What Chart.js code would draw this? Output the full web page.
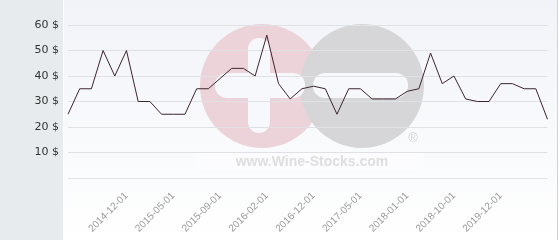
<!DOCTYPE html>
<html>
<head>
<meta charset="utf-8">
<script src="https://cdn.jsdelivr.net/npm/chart.js@4/dist/chart.umd.min.js"></script>
<style>
  html, body { margin: 0; padding: 0; background: #ffffff; }
  canvas { display: block; }
</style>
</head>
<body>
<canvas id="priceChart" width="560" height="240"></canvas>
<script>
// etikete na x osi - samo one koje se vide na slici
const dateLabels = [
  '', '', '', '', '', '2014-12-01', '', '', '', '2015-05-01',
  '', '', '', '2015-09-01', '', '', '', '2016-02-01', '', '',
  '', '2016-12-01', '', '', '', '2017-05-01', '', '', '', '2018-01-01',
  '', '', '', '2018-10-01', '', '', '', '2019-12-01', '', '',
  '', ''
];

// cijena u $
const priceValues = [
  25, 35, 35, 50, 40, 50, 30, 30, 25, 25,
  25, 35, 35, 39, 43, 43, 40, 56, 37, 31,
  35, 36, 35, 25, 35, 35, 31, 31, 31, 34,
  35, 49, 37, 40, 31, 30, 30, 37, 37, 35,
  35, 23
];

const yTicks = [0, 10, 20, 30, 40, 50, 60];

const labelColor = '#333333';
const gridColor = '#e0e1e4';

// pozadina + vodeni zig
const backdrop = {
  id: 'backdrop',
  beforeDraw(chart) {
    const ctx = chart.ctx;
    const w = chart.width, h = chart.height;
    ctx.save();
    ctx.fillStyle = '#ffffff';
    ctx.fillRect(0, 0, w, h);

    ctx.fillStyle = '#e7ebee';
    ctx.fillRect(0, 0, 63, h);

    const g = ctx.createLinearGradient(0, 0, 0, h);
    g.addColorStop(0, '#f1f3f8');
    g.addColorStop(1, '#ffffff');
    ctx.fillStyle = g;
    ctx.fillRect(64, 0, 493, h);

    ctx.strokeStyle = '#d0d2d6';
    ctx.lineWidth = 1;
    ctx.beginPath();
    ctx.moveTo(557.5, 0);
    ctx.lineTo(557.5, h);
    ctx.stroke();

    // logo
    const cy = 86;
    ctx.fillStyle = '#ecd2d9';
    ctx.beginPath(); ctx.arc(262, cy, 62, 0, Math.PI * 2); ctx.fill();
    ctx.fillStyle = '#d6d6d8';
    ctx.beginPath(); ctx.arc(362, cy, 62, 0, Math.PI * 2); ctx.fill();

    ctx.fillStyle = '#f7f8fb';
    const pill = (x, y, bw, bh, r) => {
      ctx.beginPath();
      ctx.roundRect(x, y, bw, bh, r);
      ctx.fill();
    };
    pill(248, 38, 22, 95, 11);
    pill(215, 73, 90, 25, 12);
    pill(313, 73, 95, 25, 12);

    ctx.fillStyle = '#d4d4d6';
    ctx.font = '13px "Liberation Sans"';
    ctx.textAlign = 'center';
    ctx.textBaseline = 'middle';
    ctx.fillText('\u00AE', 413, 138);

    ctx.fillStyle = 'rgba(255,255,255,0.4)';
    ctx.fillRect(197, 152, 226, 18);
    ctx.fillStyle = '#dedede';
    ctx.font = 'bold 14px "Liberation Sans"';
    ctx.fillText('www.Wine-Stocks.com', 312, 162);
    ctx.restore();
  }
};

new Chart(document.getElementById('priceChart').getContext('2d'), {
  type: 'line',
  data: {
    labels: dateLabels,
    datasets: [{
      data: priceValues,
      borderColor: '#3d2430',
      borderWidth: 1,
      pointRadius: 0,
      fill: false,
      tension: 0,
    }],
  },
  options: {
    responsive: false,
    animation: false,
    layout: { padding: { top: 25, right: 5, left: 0, bottom: 0 } },
    plugins: {
      legend: { display: false },
      tooltip: { enabled: false },
    },
    scales: {
      x: {
        grid: { display: false },
        border: { display: false },
        afterFit: (scale) => { scale.height = 62; },
        ticks: {
          autoSkip: false,
          minRotation: 45,
          maxRotation: 45,
          padding: 4,
          color: '#9a9a9a',
          font: { family: '"Liberation Sans", Arial', size: 10 },
        },
      },
      y: {
        min: 0,
        max: 60,
        afterFit: (scale) => { scale.width = 68; },
        afterBuildTicks: (scale) => { scale.ticks = yTicks.map(v => ({ value: v })); },
        grid: { color: gridColor, drawTicks: false },
        border: { display: false },
        ticks: {
          padding: 9,
          color: labelColor,
          font: { family: '"DejaVu Sans"', size: 11 },
          callback: (v) => v === 0 ? '' : v + ' $',
        },
      },
    },
  },
  plugins: [backdrop],
});
</script>
</body>
</html>
